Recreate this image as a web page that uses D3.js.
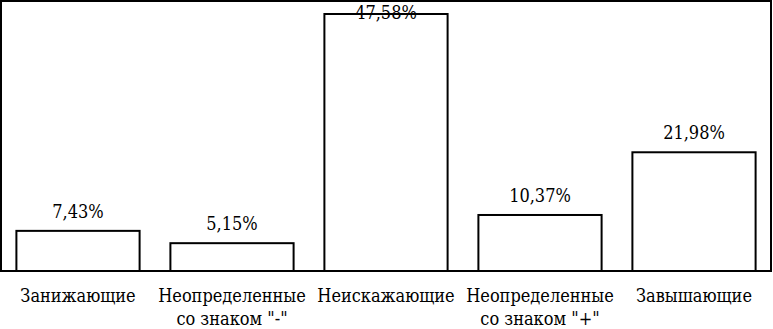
<!DOCTYPE html>
<html>
<head>
<meta charset="utf-8">
<script src="https://cdn.jsdelivr.net/npm/d3@7"></script>
<style>
  body { margin: 0; background: #fff; }
</style>
</head>
<body>
<div id="vis"></div>
<script>
// data
var categories = ["Занижающие", "Неопределенные|со знаком \"-\"", "Неискажающие", "Неопределенные|со знаком \"+\"", "Завышающие"];
var values = [7.43, 5.15, 47.58, 10.37, 21.98];
var valueLabels = ["7,43%", "5,15%", "47,58%", "10,37%", "21,98%"];

var width = 773, height = 329;
var plot = {left: 1, right: 771, top: 1, bottom: 271};
var serif = "'DejaVu Serif Condensed', 'DejaVu Serif', 'Noto Serif', serif";

var svg = d3.select("#vis")
    .append("svg")
    .attr("width", width)
    .attr("height", height);

var x = d3.scaleBand()
    .domain(d3.range(categories.length))
    .range([plot.left, plot.right])
    .paddingInner(0.2)
    .paddingOuter(0.1);

var y = d3.scaleLinear()
    .domain([0, 47.58])
    .range([plot.bottom, 14]);

// plot area frame
svg.append("rect")
    .attr("x", plot.left)
    .attr("y", plot.top)
    .attr("width", plot.right - plot.left)
    .attr("height", plot.bottom - plot.top)
    .attr("fill", "none")
    .attr("stroke", "#000")
    .attr("stroke-width", 2);

// bars
svg.selectAll(".bar")
    .data(values)
    .join("rect")
    .attr("class", "bar")
    .attr("x", (d, i) => x(i))
    .attr("y", d => y(d))
    .attr("width", x.bandwidth())
    .attr("height", d => plot.bottom - y(d))
    .attr("fill", "#fff")
    .attr("stroke", "#000")
    .attr("stroke-width", 2);

// value labels (kept inside plot area)
svg.selectAll(".val")
    .data(values)
    .join("text")
    .attr("class", "val")
    .attr("x", (d, i) => x(i) + x.bandwidth() / 2)
    .attr("y", d => Math.max(y(d) - 13, 19))
    .attr("text-anchor", "middle")
    .attr("fill", "#000")
    .style("font-family", serif)
    .style("font-stretch", "condensed")
    .style("font-size", "18px")
    .text((d, i) => valueLabels[i]);

// category labels
var cat = svg.selectAll(".cat")
    .data(categories)
    .join("text")
    .attr("class", "cat")
    .attr("x", (d, i) => x(i) + x.bandwidth() / 2)
    .attr("y", 302)
    .attr("text-anchor", "middle")
    .attr("fill", "#000")
    .style("font-family", serif)
    .style("font-stretch", "condensed")
    .style("font-size", "18px");

cat.selectAll("tspan")
    .data(d => d.split("|"))
    .join("tspan")
    .attr("x", function () { return this.parentNode.getAttribute("x"); })
    .attr("dy", (d, i) => i === 0 ? 0 : 23)
    .text(d => d);
</script>
</body>
</html>
